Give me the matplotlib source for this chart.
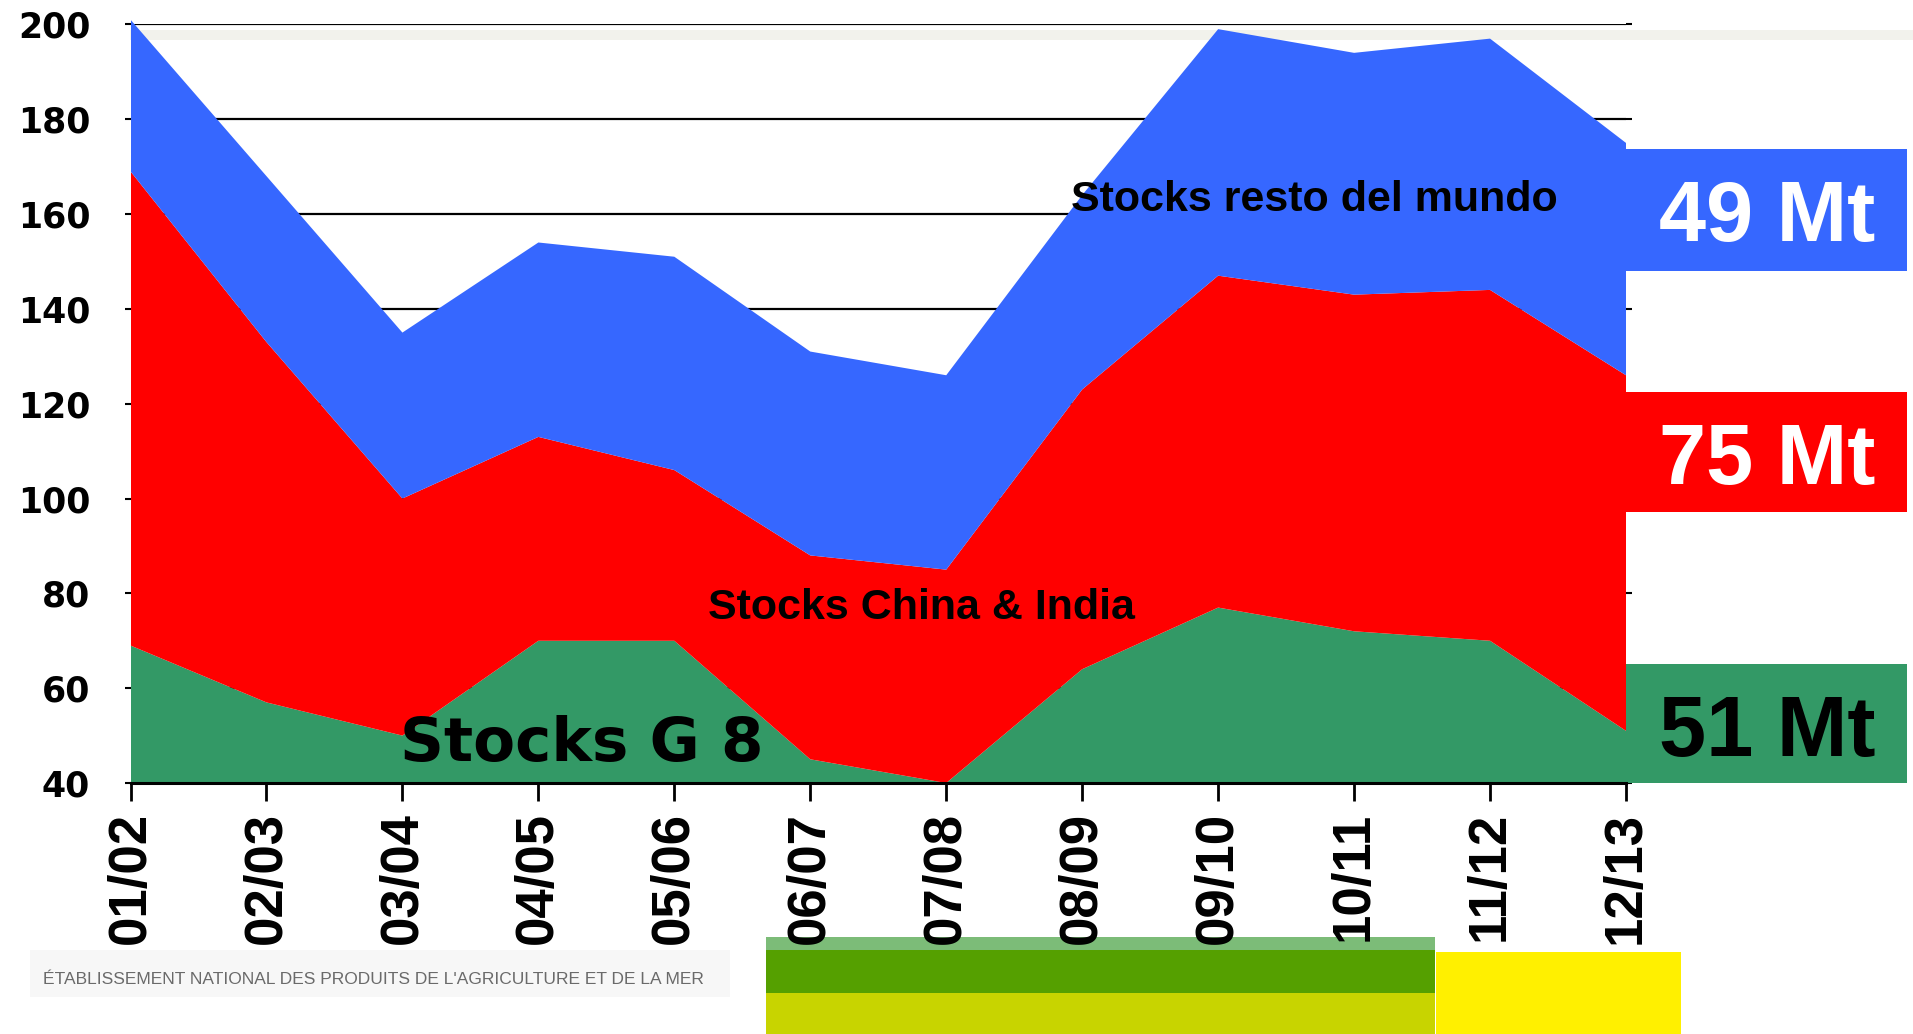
import matplotlib
matplotlib.use("Agg")

import matplotlib.pyplot as plt
from matplotlib.patches import Rectangle
from matplotlib.lines import Line2D

# campañas y stocks (Mt)
seasons = ["01/02", "02/03", "03/04", "04/05", "05/06", "06/07",
           "07/08", "08/09", "09/10", "10/11", "11/12", "12/13"]
stocks_g8 = [69, 57, 50, 70, 70, 45, 40, 64, 77, 72, 70, 51]
stocks_china_india = [100, 76, 50, 43, 36, 43, 45, 59, 70, 71, 74, 75]
stocks_resto = [32, 35, 35, 41, 45, 43, 41, 41, 52, 51, 53, 49]
yticks = [40, 60, 80, 100, 120, 140, 160, 180, 200]

BLUE = "#3667ff"
RED = "#ff0000"
GREEN = "#339966"


def main():
    W, H = 1913, 1034
    fig = plt.figure(figsize=(W / 100, H / 100), dpi=100)
    ax = fig.add_axes([130.5 / W, 1 - 783 / H, 1495.5 / W, 758.6 / H])
    ax.set_facecolor("none")

    x = list(range(len(seasons)))

    # lineas de la cuadricula detras de las areas
    for v in yticks:
        ax.axhline(v, color="black", linewidth=1.6, zorder=0)

    polys = ax.stackplot(x, stocks_g8, stocks_china_india, stocks_resto,
                         colors=[GREEN, RED, BLUE], linewidth=0, zorder=1)
    # dejar que el azul pase un poco por encima de 200
    clip = Rectangle((0, 0), 1, 1.05, transform=ax.transAxes)
    for p in polys:
        p.set_clip_path(clip)

    ax.set_xlim(0, 11)
    ax.set_ylim(40, 200)

    ax.set_yticks(yticks)
    ax.set_yticklabels([str(v) for v in yticks], fontsize=25,
                       fontweight="bold", family="DejaVu Sans")
    ax.tick_params(axis="y", length=4, width=1.5, pad=25, right=True)

    ax.set_xticks(x)
    ax.set_xticklabels(seasons, rotation=90, fontsize=38, fontweight="bold",
                       family="Liberation Sans")
    ax.tick_params(axis="x", length=13, width=2, pad=8)

    for s in ["top", "right", "left"]:
        ax.spines[s].set_visible(False)
    ax.spines["bottom"].set_linewidth(2.2)
    ax.spines["bottom"].set_zorder(3)

    # etiquetas de las areas
    ax.text(8.705, 163, "Stocks resto del mundo", fontsize=31, fontweight="bold",
            family="Liberation Sans", ha="center", va="center", zorder=4)
    ax.text(5.815, 77, "Stocks China & India", fontsize=31, fontweight="bold",
            family="Liberation Sans", ha="center", va="center", zorder=4)
    ax.text(3.32, 48.2, "Stocks G 8", fontsize=44, fontweight="bold",
            family="DejaVu Sans", ha="center", va="center", zorder=4)

    # cajas de la derecha con el ultimo valor
    last = len(seasons) - 1
    boxes = [
        (148.0, 173.7, BLUE, "white", stocks_resto[last], 154.3),
        (97.2, 122.5, RED, "white", stocks_china_india[last], 103.05),
        (40.0, 65.1, GREEN, "black", stocks_g8[last], 45.7),
    ]
    for y0, y1, fc, tc, val, yb in boxes:
        ax.add_patch(Rectangle((11, y0), 2.07, y1 - y0, facecolor=fc,
                               edgecolor="none", clip_on=False, zorder=2))
        ax.text(12.04, yb, f"{val} Mt", color=tc, fontsize=61, fontweight="bold",
                family="Liberation Sans", ha="center", va="baseline",
                clip_on=False, zorder=4)

    # banda punteada gris arriba
    fig.patches.append(Rectangle((130 / W, 1 - 40 / H), 1 - 130 / W, 10 / H,
                                 transform=fig.transFigure, facecolor="#f2f2ec",
                                 edgecolor="none", zorder=-1))
    fig.lines.append(Line2D([135 / W, 1], [1 - 34 / H, 1 - 34 / H],
                            transform=fig.transFigure, color="#8a8a8a",
                            linewidth=1.5, linestyle=(0, (1.5, 1.5)), zorder=-1))

    # pie de pagina: logo y bandas de colores
    fig.patches.append(Rectangle((30 / W, 1 - 997 / H), 700 / W, 47 / H,
                                 transform=fig.transFigure, facecolor="#f7f7f7",
                                 edgecolor="none", zorder=-2))
    fig.text(43 / W, 1 - 980 / H,
             "ÉTABLISSEMENT NATIONAL DES PRODUITS DE L'AGRICULTURE ET DE LA MER",
             fontsize=12.5, color="#6a6a6a", family="Liberation Sans",
             ha="left", va="center", zorder=-1)

    bands = [
        (766, 1435, 937, 950, "#7cbc78"),
        (766, 1435, 950, 993, "#55a000"),
        (766, 1435, 993, 1034, "#c8d400"),
        (1436, 1681, 952, 1034, "#fff000"),
    ]
    for x0, x1, y0, y1, c in bands:
        fig.patches.append(Rectangle((x0 / W, 1 - y1 / H), (x1 - x0) / W,
                                     (y1 - y0) / H, transform=fig.transFigure,
                                     facecolor=c, edgecolor="none", zorder=-1))

    fig.savefig("out.png", dpi=100)
    plt.close(fig)


if __name__ == "__main__":
    main()
